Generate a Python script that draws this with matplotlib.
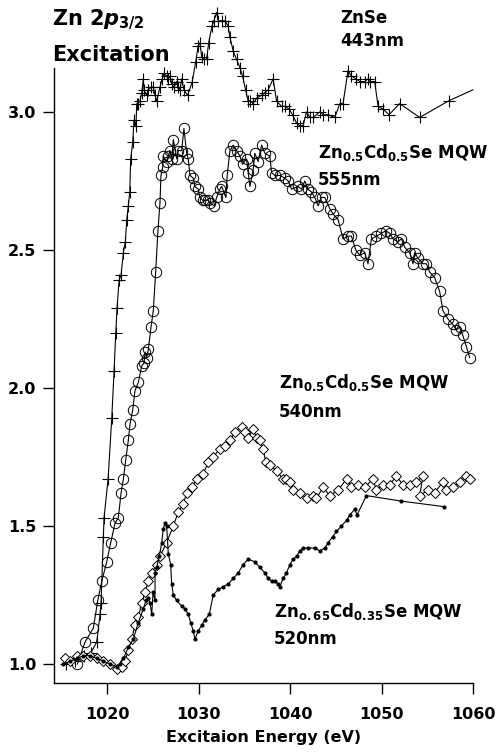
import numpy as np
import matplotlib
matplotlib.use("Agg")
import matplotlib.pyplot as plt

plt.rcParams["font.family"] = ["DejaVu Sans"]
plt.rcParams["font.weight"] = "bold"
plt.rcParams["mathtext.fontset"] = "custom"
plt.rcParams["mathtext.rm"] = "DejaVu Sans:bold"
plt.rcParams["mathtext.bf"] = "DejaVu Sans:bold"
plt.rcParams["mathtext.it"] = "DejaVu Sans:italic:bold"

# ZnSe 443nm (+)
znse_e = [1015.5, 1016.5, 1017.5, 1018.2, 1018.84, 1019.20, 1019.31, 1019.56, 1019.64, 1020.08,
          1020.48, 1020.73, 1020.92, 1021.06, 1021.28, 1021.50, 1021.75, 1021.97, 1022.12, 1022.29,
          1022.45, 1022.55, 1022.77, 1022.91, 1023.13, 1023.21, 1023.38, 1023.57, 1023.76, 1023.93,
          1024.01, 1024.30, 1024.48, 1024.77, 1025.02, 1025.21, 1025.39, 1025.75, 1026.00, 1026.19,
          1026.48, 1026.66, 1026.84, 1027.06, 1027.28, 1027.58, 1027.75, 1027.94, 1028.12, 1028.37,
          1028.78, 1029.28, 1029.65, 1029.93, 1030.12, 1030.31, 1030.56, 1030.85, 1031.07, 1031.43,
          1031.65, 1031.94, 1032.12, 1032.49, 1032.85, 1033.21, 1033.40, 1033.76, 1034.13, 1034.49,
          1034.78, 1035.11, 1035.39, 1035.58, 1035.94, 1036.31, 1036.86, 1037.22, 1037.58, 1038.12,
          1038.49, 1039.04, 1039.40, 1039.87, 1040.24, 1040.68, 1041.04, 1041.40, 1041.77, 1042.13,
          1042.49, 1043.22, 1043.58, 1044.13, 1044.86, 1045.40, 1045.76, 1046.31, 1046.68, 1047.15,
          1047.59, 1048.13, 1048.49, 1048.76, 1049.22, 1049.59, 1050.13, 1050.79, 1051.95, 1054.14,
          1057.30, 1059.96]
znse_v = [1.00, 1.01, 1.03, 1.04, 1.08, 1.18, 1.22, 1.46, 1.53, 1.67,
          1.89, 2.06, 2.20, 2.29, 2.39, 2.41, 2.49, 2.53, 2.61, 2.66,
          2.71, 2.83, 2.89, 2.97, 2.95, 3.03, 3.03, 3.04, 3.07, 3.12,
          3.08, 3.06, 3.08, 3.09, 3.09, 3.06, 3.04, 3.09, 3.12, 3.14,
          3.13, 3.12, 3.13, 3.10, 3.09, 3.11, 3.09, 3.08, 3.12, 3.08,
          3.06, 3.11, 3.18, 3.24, 3.25, 3.20, 3.19, 3.19, 3.25, 3.31,
          3.33, 3.36, 3.33, 3.33, 3.33, 3.31, 3.27, 3.22, 3.19, 3.16,
          3.13, 3.08, 3.04, 3.04, 3.03, 3.05, 3.06, 3.07, 3.08, 3.12,
          3.04, 3.02, 3.02, 3.01, 2.99, 2.96, 2.95, 2.95, 3.00, 2.98,
          2.98, 3.00, 2.99, 2.99, 2.98, 3.03, 3.03, 3.15, 3.13, 3.12,
          3.11, 3.11, 3.12, 3.11, 3.11, 3.02, 3.01, 2.99, 3.03, 2.98,
          3.04, 3.08]

# Zn0.5Cd0.5Se MQW 555nm (circles)
mqw555_e = [1016.72, 1017.57, 1018.47, 1018.95, 1019.39, 1019.93, 1020.37, 1020.84, 1021.20, 1021.50,
            1021.75, 1022.01, 1022.29, 1022.48, 1022.77, 1023.02, 1023.38, 1023.76, 1024.01, 1024.12,
            1024.30, 1024.48, 1024.77, 1025.02, 1025.28, 1025.53, 1025.75, 1025.86, 1026.05, 1026.11,
            1026.48, 1026.66, 1026.84, 1027.03, 1027.21, 1027.58, 1027.75, 1028.12, 1028.37, 1028.67,
            1028.84, 1029.03, 1029.39, 1029.57, 1029.93, 1030.12, 1030.41, 1030.67, 1031.03, 1031.21,
            1031.68, 1031.94, 1032.30, 1032.49, 1032.96, 1033.10, 1033.40, 1033.76, 1034.13, 1034.49,
            1034.78, 1035.22, 1035.39, 1035.58, 1035.94, 1036.12, 1036.48, 1036.86, 1037.22, 1037.76,
            1037.95, 1038.31, 1038.85, 1039.40, 1039.76, 1040.13, 1040.85, 1041.22, 1041.58, 1041.94,
            1042.31, 1042.67, 1043.04, 1043.41, 1043.77, 1044.31, 1044.67, 1045.22, 1045.76, 1046.31,
            1046.68, 1047.15, 1047.59, 1048.13, 1048.49, 1048.86, 1049.41, 1049.96, 1050.43, 1050.86,
            1051.22, 1051.77, 1052.14, 1052.50, 1053.05, 1053.41, 1053.59, 1053.95, 1054.50, 1054.87,
            1055.23, 1055.77, 1056.32, 1056.68, 1057.23, 1057.77, 1058.14, 1058.50, 1058.86, 1059.24,
            1059.60]
mqw555_v = [1.00, 1.08, 1.13, 1.23, 1.30, 1.37, 1.44, 1.51, 1.53, 1.62,
            1.67, 1.74, 1.81, 1.87, 1.92, 1.99, 2.02, 2.08, 2.09, 2.13,
            2.11, 2.14, 2.22, 2.28, 2.42, 2.57, 2.67, 2.77, 2.80, 2.84,
            2.82, 2.84, 2.86, 2.83, 2.90, 2.83, 2.86, 2.86, 2.94, 2.85,
            2.83, 2.77, 2.76, 2.73, 2.72, 2.69, 2.68, 2.68, 2.68, 2.67,
            2.66, 2.69, 2.72, 2.73, 2.69, 2.77, 2.86, 2.88, 2.86, 2.84,
            2.81, 2.83, 2.78, 2.73, 2.79, 2.85, 2.82, 2.88, 2.85, 2.84,
            2.78, 2.77, 2.77, 2.76, 2.75, 2.72, 2.73, 2.72, 2.75, 2.72,
            2.71, 2.69, 2.66, 2.69, 2.69, 2.65, 2.63, 2.61, 2.54, 2.55,
            2.55, 2.50, 2.48, 2.49, 2.45, 2.54, 2.55, 2.56, 2.57, 2.56,
            2.54, 2.53, 2.54, 2.51, 2.49, 2.45, 2.49, 2.47, 2.45, 2.45,
            2.42, 2.40, 2.35, 2.28, 2.25, 2.23, 2.21, 2.22, 2.19, 2.15,
            2.11]

# Zn0.5Cd0.5Se MQW 540nm (diamonds)
mqw540_e = [1015.38, 1015.93, 1016.66, 1017.38, 1018.11, 1018.84, 1019.56, 1020.29, 1021.03, 1021.57,
            1021.93, 1022.29, 1022.66, 1023.02, 1023.38, 1023.76, 1024.12, 1024.48, 1024.85, 1025.39,
            1025.75, 1026.48, 1027.21, 1027.75, 1028.30, 1028.67, 1029.21, 1029.76, 1030.48, 1031.03,
            1031.57, 1032.30, 1032.85, 1033.40, 1033.94, 1034.67, 1035.03, 1035.39, 1035.94, 1036.31,
            1036.67, 1037.03, 1037.32, 1037.76, 1038.49, 1039.21, 1039.58, 1039.95, 1040.31, 1041.04,
            1041.77, 1042.49, 1042.86, 1043.58, 1044.31, 1045.22, 1046.14, 1046.68, 1047.40, 1048.13,
            1049.04, 1049.41, 1050.13, 1050.86, 1051.59, 1052.31, 1053.04, 1053.77, 1054.50, 1054.14,
            1055.04, 1055.77, 1056.68, 1057.05, 1057.77, 1058.50, 1059.24, 1059.60]
mqw540_v = [1.02, 1.01, 1.03, 1.03, 1.03, 1.02, 1.01, 1.00, 0.98, 0.99,
            1.01, 1.05, 1.09, 1.14, 1.17, 1.22, 1.26, 1.30, 1.33, 1.36,
            1.39, 1.44, 1.50, 1.55, 1.58, 1.62, 1.64, 1.67, 1.69, 1.73,
            1.75, 1.78, 1.79, 1.81, 1.84, 1.86, 1.84, 1.82, 1.85, 1.82,
            1.81, 1.78, 1.73, 1.72, 1.70, 1.67, 1.67, 1.66, 1.63, 1.62,
            1.60, 1.61, 1.60, 1.64, 1.61, 1.63, 1.67, 1.64, 1.65, 1.64,
            1.67, 1.63, 1.65, 1.65, 1.68, 1.65, 1.65, 1.66, 1.68, 1.61,
            1.63, 1.62, 1.66, 1.63, 1.64, 1.66, 1.68, 1.67]

# Zn0.65Cd0.35Se MQW 520nm (dots)
mqw520_e = [1015.20, 1015.93, 1016.66, 1017.38, 1018.11, 1018.84, 1019.56, 1020.29, 1021.03, 1021.39,
            1021.75, 1022.29, 1022.84, 1023.38, 1023.93, 1024.23, 1024.48, 1024.66, 1024.85, 1024.99,
            1025.21, 1025.21, 1025.39, 1025.68, 1025.94, 1026.11, 1026.30, 1026.48, 1026.66, 1026.92,
            1027.03, 1027.21, 1027.58, 1028.12, 1028.48, 1028.84, 1029.10, 1029.39, 1029.57, 1029.93,
            1030.31, 1030.67, 1031.14, 1031.57, 1032.12, 1032.66, 1033.21, 1033.76, 1034.30, 1034.85,
            1035.39, 1036.12, 1036.67, 1037.22, 1037.58, 1037.95, 1038.31, 1038.67, 1038.85, 1039.21,
            1039.58, 1039.95, 1040.31, 1040.68, 1041.04, 1041.40, 1041.94, 1042.67, 1043.22, 1043.77,
            1044.13, 1044.61, 1045.04, 1045.59, 1046.14, 1046.50, 1047.04, 1047.29, 1048.32, 1052.14,
            1056.79]
mqw520_v = [1.00, 1.01, 1.02, 1.03, 1.03, 1.02, 1.01, 1.00, 0.99, 1.00,
            1.02, 1.06, 1.09, 1.15, 1.20, 1.23, 1.24, 1.22, 1.18, 1.26,
            1.23, 1.33, 1.35, 1.39, 1.44, 1.49, 1.51, 1.50, 1.40, 1.36,
            1.29, 1.25, 1.23, 1.21, 1.20, 1.18, 1.15, 1.12, 1.09, 1.12,
            1.14, 1.16, 1.18, 1.25, 1.27, 1.28, 1.29, 1.31, 1.33, 1.36,
            1.38, 1.37, 1.35, 1.33, 1.31, 1.30, 1.30, 1.29, 1.28, 1.31,
            1.33, 1.36, 1.38, 1.39, 1.41, 1.42, 1.42, 1.42, 1.41, 1.42,
            1.44, 1.46, 1.48, 1.50, 1.52, 1.54, 1.56, 1.54, 1.61, 1.59,
            1.57]

x_ticks = [1020, 1030, 1040, 1050, 1060]
y_ticks = [1.0, 1.5, 2.0, 2.5, 3.0]

W, H = 498, 754
fig = plt.figure(figsize=(W / 100, H / 100), dpi=100)
ax = fig.add_axes([54.3 / W, 1 - 683.3 / H, (473.3 - 54.3) / W, (683.3 - 68.3) / H])

lw = 0.8
# the original plot lets the curves run past the top of the frame
ax.plot(znse_e, znse_v, color="black", lw=lw, marker="+", ms=8, mew=0.8,
        markevery=list(range(len(znse_e) - 1)), clip_on=False)
ax.plot(mqw555_e, mqw555_v, color="black", lw=lw, marker="o", ms=7.5, mew=0.7, mfc="none",
        clip_on=False)
ax.plot(mqw540_e, mqw540_v, color="black", lw=lw, marker="D", ms=5.5, mew=0.7, mfc="white",
        clip_on=False)
ax.plot(mqw520_e, mqw520_v, color="black", lw=lw, marker="o", ms=3, mew=0, clip_on=False)

ax.set_xlim(1014.2, 1060)
ax.set_ylim(0.930, 3.158)
ax.set_xticks(x_ticks)
ax.set_yticks(y_ticks)
ax.set_yticklabels([f"{t:.1f}" for t in y_ticks])
ax.spines["top"].set_visible(False)
ax.spines["right"].set_visible(False)
for s in ("left", "bottom"):
    ax.spines[s].set_linewidth(1.0)
ax.tick_params(axis="both", direction="out", length=8, width=1.0, labelsize=11.5)
ax.tick_params(axis="x", pad=9)
ax.tick_params(axis="y", pad=5)
ax.set_xlabel("Excitaion Energy (eV)", fontsize=11.5, fontweight="bold", labelpad=6)

def ftext(x, y, s, size=12):
    fig.text(x / W, 1 - y / H, s, fontsize=size, fontweight="bold", va="baseline", ha="left")

ftext(52, 25, r"Zn $\mathit{2p}_{\mathit{3/2}}$", size=15)
ftext(52, 61, "Excitation", size=15)
ftext(340, 23, "ZnSe")
ftext(340, 46, "443nm")
ftext(318, 158, r"Zn$_{\mathrm{0.5}}$Cd$_{\mathrm{0.5}}$Se MQW")
ftext(318, 185, "555nm")
ftext(279, 388, r"Zn$_{\mathrm{0.5}}$Cd$_{\mathrm{0.5}}$Se MQW")
ftext(279, 417, "540nm")
ftext(274, 617, r"Zn$_{\mathrm{o.65}}$Cd$_{\mathrm{0.35}}$Se MQW")
ftext(274, 644, "520nm")

fig.savefig("out.png", dpi=100)
